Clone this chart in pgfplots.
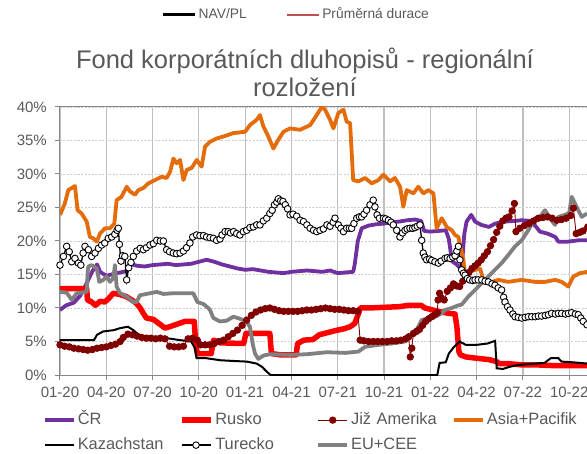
\documentclass[border=0pt]{standalone}
\usepackage{fontspec}
\setmainfont{Liberation Sans}
\usepackage{pgfplots}
\pgfplotsset{compat=1.18}
\definecolor{txt}{RGB}{89,89,89}
\definecolor{axgray}{RGB}{134,134,134}
\definecolor{gridv}{RGB}{191,191,191}
\definecolor{gridh}{RGB}{205,205,205}
\definecolor{cr}{RGB}{112,48,160}
\definecolor{rusko}{RGB}{255,0,0}
\definecolor{jiz}{RGB}{128,0,0}
\definecolor{asia}{RGB}{228,108,10}
\definecolor{eucee}{RGB}{128,128,128}
\definecolor{durace}{RGB}{192,80,77}
\begin{document}
\begin{tikzpicture}
\useasboundingbox (0pt,0pt) rectangle (587pt,453pt);
\clip (0pt,0pt) rectangle (587pt,453pt);
\begin{axis}[
  at={(60pt,78pt)}, anchor=south west,
  scale only axis, width=555.5pt, height=268pt,
  xmin=0, xmax=36, ymin=0, ymax=40,
  axis line style={axgray, line width=1pt},
  xtick={0,3,...,33},
  xticklabels={01-20,04-20,07-20,10-20,01-21,04-21,07-21,10-21,01-22,04-22,07-22,10-22},
  ytick={0,5,...,40},
  yticklabels={0\%,5\%,10\%,15\%,20\%,25\%,30\%,35\%,40\%},
  xtick pos=bottom, ytick pos=left,
  tick align=outside, major tick length=5pt,
  tick style={axgray, line width=1pt},
  xmajorgrids, ymajorgrids,
  x grid style={gridv, line width=1.2pt},
  y grid style={gridh, line width=0.7pt, dash pattern=on 2pt off 1.5pt},
  every tick label/.append style={font=\fontsize{15}{17}\selectfont, text=txt},
  xticklabel style={anchor=north, inner sep=0pt, yshift=-6.5pt},
  yticklabel style={anchor=east, inner sep=0pt, xshift=-8pt},
  title={Fond korporátních dluhopisů - regionální\\rozložení},
  title style={at={(axis description cs:0.441,1.199)}, anchor=north, align=center, inner sep=0pt, font=\fontsize{25.5}{28.4}\selectfont, text=txt},
  legend columns=4,
  legend cell align=left,
  legend image code/.code={\draw[mark repeat=2,mark phase=2,#1] plot coordinates {(0pt,0pt) (14.5pt,0pt) (29pt,0pt)};},
  legend style={draw=none, fill=none, inner sep=0pt, outer sep=0pt,
    at={(axis description cs:-0.0306,-0.1395)}, anchor=north west,
    font=\fontsize{16.4}{19}\selectfont, row sep=9.5pt,
    nodes={inner sep=0pt, text height=12pt, text depth=3.5pt, text width=101pt, align=left, text=txt},
    /tikz/every odd column/.style={column sep=2pt},
    /tikz/every even column/.style={column sep=0pt}},
]
% CR
\addplot[cr, line width=3.8pt, line join=round] coordinates {
(0,9.7) (0.4,10.4) (0.9,10.8) (1.3,11.8) (1.75,13.8) (2.1,15.5) (2.4,16.5) (2.6,15.4) (3.0,14.8) (3.5,15.1) (3.9,15.3) (4.3,15.5) (4.5,16.6) (5.0,16.3) (5.5,16.2) (6.0,16.4) (6.5,16.5) (7.0,16.6) (7.5,16.4) (8.0,16.5) (8.5,16.6) (9.0,16.9) (9.5,17.2) (10.0,16.9) (10.5,16.5) (11.0,16.2) (11.5,15.9) (12.0,15.7) (12.5,15.8) (13.0,15.6) (13.5,15.4) (14.0,15.3) (14.5,15.2) (15.0,15.4) (15.5,15.5) (16.0,15.6) (16.5,15.5) (17.0,15.4) (17.5,15.6) (18.0,15.2) (18.5,15.3) (19.0,15.4) (19.1,16.5) (19.3,20.0) (19.55,21.9) (20.0,22.3) (20.5,22.5) (21.0,22.6) (21.5,22.8) (22.0,22.9) (22.5,23.1) (23.0,23.2) (23.4,23.0) (23.6,21.5) (24.0,21.4) (24.5,21.5) (25.0,21.6) (25.2,20.3) (25.4,17.0) (25.7,16.5) (26.0,15.8) (26.1,18.0) (26.2,21.0) (26.35,22.9) (26.65,23.9) (26.9,22.9) (27.3,22.4) (27.8,22.1) (28.2,22.6) (28.8,22.9) (29.5,23.0) (29.9,23.1) (30.5,23.0) (30.9,22.0) (31.1,21.4) (31.6,21.1) (32.1,20.6) (32.3,19.9) (32.9,19.9) (33.6,20.1) (34.2,20.1)
};
\addlegendentry{ČR}
% Rusko
\addplot[rusko, line width=5.5pt, line join=round] coordinates {
(0,12.9) (1.73,12.9) (1.78,11.2) (2.05,10.9) (2.3,10.4) (2.6,11.0) (2.9,10.9) (3.15,11.4) (3.45,12.2) (3.9,12.0) (4.3,11.7) (4.65,11.2) (4.95,10.7) (5.2,10.0) (5.4,9.2) (5.6,8.5) (6.05,8.3) (6.4,7.7) (6.8,7.0) (7.1,7.2) (7.6,7.6) (8.1,8.0) (8.7,8.0) (8.8,4.5) (8.9,3.2) (9.8,3.2) (9.95,5.2) (10.4,4.8) (11.9,4.7) (12.05,6.2) (13.6,6.2) (13.7,3.2) (14.3,3.0) (15.3,3.0) (15.4,4.7) (15.8,5.2) (16.4,5.3) (16.8,6.0) (17.3,6.3) (17.8,6.6) (18.4,6.9) (18.8,7.2) (19.1,7.7) (19.35,9.2) (19.45,10.0) (20.0,10.0) (21.0,10.1) (22.0,10.2) (22.6,10.4) (23.4,10.4) (23.65,10.0) (24.5,9.5) (25.2,9.2) (25.6,9.1) (25.72,7.2) (25.85,3.5) (25.95,3.0) (26.3,2.7) (27.0,2.5) (27.8,2.3) (28.3,2.0) (28.45,1.7) (29.0,1.7) (30.0,1.5) (31.0,1.5) (32.0,1.4) (33.0,1.4) (34.2,1.4)
};
\addlegendentry{Rusko}
% Jiz Amerika
\addplot[jiz, line width=0.9pt, mark=*, mark size=3.2pt, mark options={fill=jiz, draw=jiz}] coordinates {
(0,4.5) (0.3,4.3) (0.6,4.2) (0.9,4.0) (1.2,3.9) (1.5,3.8) (1.8,3.7) (2.1,3.8) (2.4,4.0) (2.7,4.1) (3.0,4.2) (3.3,4.4) (3.6,4.6) (3.9,5.0) (4.1,5.6) (4.4,6.1) (4.7,6.0) (5.0,5.8) (5.3,5.6) (5.6,5.5) (5.9,5.5) (6.2,5.4) (6.5,5.5) (6.8,5.4) (7.1,4.3) (7.4,4.2) (7.7,4.2) (8.0,4.3) (8.3,5.4) (8.6,5.5) (8.9,5.2) (9.1,4.5) (9.4,4.5) (9.7,4.5) (10.0,4.7) (10.3,5.0) (10.6,5.2) (10.9,5.7) (11.2,6.2) (11.5,6.7) (11.8,7.4) (12.1,8.2) (12.4,8.9) (12.7,9.4) (13.0,9.7) (13.3,9.9) (13.6,10.0) (13.9,9.8) (14.2,9.6) (14.5,9.5) (14.8,9.5) (15.1,9.5) (15.4,9.5) (15.7,9.6) (16.0,9.7) (16.3,9.7) (16.6,9.8) (16.9,9.9) (17.2,10.0) (17.5,9.9) (17.8,9.8) (18.1,9.8) (18.4,9.7) (18.7,9.6) (19.0,9.6) (19.3,9.5) (19.45,5.2) (19.7,5.1) (20.0,5.0) (20.3,5.0) (20.6,5.0) (20.9,5.0) (21.2,5.0) (21.5,5.1) (21.8,5.1) (22.1,5.2) (22.4,5.4) (22.6,5.7) (22.7,2.7) (22.8,4.0) (22.9,6.2) (23.1,6.5) (23.3,6.8) (23.5,7.4) (23.7,8.0) (23.9,8.4) (24.1,8.7) (24.3,9.0) (24.45,9.3) (24.5,11.2) (24.6,12.2) (24.7,11.5) (24.9,11.2) (25.1,12.5) (25.3,13.0) (25.5,13.6) (25.7,13.3) (25.9,13.2) (26.1,14.0) (26.3,14.7) (26.5,15.3) (26.7,15.9) (26.9,16.3) (27.1,16.7) (27.3,17.2) (27.5,17.8) (27.7,18.4) (27.9,19.3) (28.1,20.2) (28.3,21.3) (28.5,22.2) (28.7,23.0) (28.9,23.4) (29.1,23.6) (29.3,24.5) (29.45,25.6) (29.55,21.4) (29.8,21.9) (30.1,22.3) (30.4,22.6) (30.7,23.0) (31.0,23.4) (31.3,23.5) (31.6,23.6) (31.9,23.4) (32.2,23.1) (32.5,23.2) (32.8,23.4) (33.1,23.8) (33.27,24.9) (33.45,21.1) (33.7,21.3) (33.9,21.5) (34.2,22.1)
};
\addlegendentry{Již Amerika}
% Asia+Pacifik
\addplot[asia, line width=3.8pt, line join=round] coordinates {
(0,23.9) (0.3,25.5) (0.54,27.6) (0.97,28.2) (1.14,24.6) (1.4,24.1) (1.73,22.9) (1.94,20.6) (2.16,20.4) (2.38,19.9) (2.59,21.1) (2.92,21.9) (3.24,21.9) (3.52,22.6) (3.67,26.1) (3.99,26.6) (4.32,28.1) (4.54,27.4) (4.86,26.9) (5.08,27.6) (5.4,27.9) (5.72,28.6) (6.16,29.1) (6.59,29.6) (6.91,29.4) (7.13,30.3) (7.35,32.3) (7.56,31.6) (7.78,32.1) (8.0,29.1) (8.21,30.6) (8.53,30.9) (8.86,32.1) (9.18,31.1) (9.4,34.1) (9.72,34.8) (10.15,35.3) (10.59,35.6) (11.23,36.1) (11.99,36.3) (12.31,37.3) (12.75,38.1) (12.96,38.8) (13.18,37.1) (13.5,35.6) (13.83,33.8) (14.15,35.1) (14.48,36.3) (14.91,36.8) (15.56,36.6) (16.21,37.3) (16.64,38.8) (16.96,40.0) (17.18,39.6) (17.5,38.1) (17.72,36.8) (18.04,39.1) (18.37,39.6) (18.58,37.8) (18.8,37.6) (19.0,29.1) (19.34,28.9) (19.77,29.4) (20.2,28.6) (20.64,29.1) (20.96,29.9) (21.39,28.9) (21.71,29.4) (22.04,28.1) (22.25,25.1) (22.47,27.6) (22.9,27.1) (23.22,28.1) (23.55,27.1) (23.87,27.6) (24.2,27.1) (24.41,21.9) (24.74,23.4) (25.06,22.1) (25.39,21.6) (25.6,20.9) (25.82,20.6) (26.14,17.2) (26.25,15.2) (26.57,15.4) (26.9,15.7) (27.22,15.9) (27.44,14.2) (27.76,13.7) (28.41,14.2) (29.05,13.9) (29.92,14.2) (30.78,13.9) (31.43,13.9) (32.08,14.2) (32.51,13.9) (32.94,13.2) (33.27,14.7) (33.7,15.2) (34.2,15.4)
};
\addlegendentry{Asia+Pacifik}
% Kazachstan
\addplot[black, line width=2pt] coordinates {
(0,5.2) (2.2,5.2) (2.4,6.0) (2.8,6.5) (3.5,6.7) (3.9,7.0) (4.4,7.2) (4.75,6.7) (5.1,6.0) (5.6,5.7) (6.3,5.7) (6.9,5.5) (7.8,5.2) (8.5,5.0) (8.75,4.0) (8.85,2.5) (9.5,2.5) (10.4,2.2) (11.2,2.1) (12.1,2.0) (12.75,1.7) (13.1,1.2) (13.4,0.5) (13.65,0) (24.45,0) (24.6,1.8) (25.0,1.9) (25.2,3.2) (25.5,4.1) (25.9,5.0) (26.3,4.5) (27.0,4.5) (27.7,4.7) (28.2,5.1) (28.3,1.0) (28.7,0.9) (29.1,1.2) (29.7,1.5) (30.8,1.7) (31.4,1.8) (31.8,2.5) (32.3,2.5) (32.5,2.0) (33.2,1.9) (34.2,1.7)
};
\addlegendentry{Kazachstan}
% Turecko
\addplot[black, line width=1.3pt, mark=*, mark size=3.3pt, mark options={fill=white, draw=black, line width=0.9pt}] coordinates {
(0,16.4) (0.22,17.7) (0.43,19.2) (0.6,18.4) (0.76,16.9) (0.97,17.4) (1.19,16.7) (1.35,16.4) (1.5,18.2) (1.62,19.2) (1.84,18.7) (2.05,17.7) (2.27,18.2) (2.49,18.9) (2.7,19.4) (2.9,19.7) (3.13,20.4) (3.35,20.6) (3.55,21.0) (3.7,21.6) (3.78,21.9) (3.85,19.5) (3.95,17.0) (4.05,17.8) (4.2,17.7) (4.32,14.2) (4.45,16.0) (4.6,16.8) (4.75,17.7) (4.97,18.5) (5.2,18.9) (5.4,18.7) (5.6,19.0) (5.83,19.4) (6.05,19.6) (6.27,20.1) (6.5,20.0) (6.7,20.0) (6.91,18.7) (7.1,18.4) (7.34,18.2) (7.55,18.1) (7.78,18.2) (8.0,18.5) (8.2,19.0) (8.42,19.7) (8.6,20.6) (8.85,20.9) (9.07,20.8) (9.3,20.8) (9.5,20.6) (9.72,20.5) (9.94,20.4) (10.15,20.1) (10.37,20.3) (10.5,20.9) (10.7,21.4) (10.9,21.4) (11.05,21.2) (11.25,21.4) (11.45,21.1) (11.66,20.9) (11.88,21.4) (12.1,21.6) (12.31,22.0) (12.53,22.1) (12.75,22.4) (12.96,22.4) (13.18,23.0) (13.4,23.4) (13.6,24.1) (13.75,24.6) (13.9,25.4) (14.05,25.8) (14.15,26.3) (14.3,26.0) (14.45,25.9) (14.6,25.4) (14.75,24.8) (14.91,23.9) (15.1,24.0) (15.34,23.7) (15.56,23.1) (15.78,22.9) (16.0,22.4) (16.21,21.9) (16.43,21.6) (16.64,21.4) (16.85,21.6) (17.07,21.8) (17.3,22.4) (17.5,22.2) (17.7,22.8) (17.82,23.4) (18.04,22.4) (18.2,21.9) (18.37,21.4) (18.58,21.9) (18.75,21.9) (18.9,21.9) (19.05,22.6) (19.23,23.4) (19.4,23.6) (19.55,23.6) (19.7,24.0) (19.87,24.6) (20.09,25.4) (20.3,26.1) (20.41,25.1) (20.55,23.9) (20.7,23.4) (20.96,23.4) (21.1,23.3) (21.28,23.1) (21.45,22.8) (21.6,22.4) (21.82,21.6) (22.03,20.6) (22.2,21.2) (22.36,21.6) (22.5,21.8) (22.68,21.9) (22.85,21.9) (23.0,22.0) (23.15,22.2) (23.33,22.4) (23.44,20.1) (23.54,18.2) (23.65,17.6) (23.76,17.2) (23.95,17.3) (24.09,17.1) (24.3,16.9) (24.52,16.7) (24.7,17.0) (24.95,17.4) (25.1,17.5) (25.28,17.4) (25.45,17.6) (25.6,17.8) (25.72,18.5) (25.82,19.2) (25.92,17.2) (26.03,15.7) (26.15,15.2) (26.25,14.9) (26.4,14.4) (26.55,14.2) (26.75,14.1) (26.9,14.2) (27.1,14.2) (27.33,14.2) (27.55,14.0) (27.76,13.9) (28.0,13.6) (28.19,13.4) (28.4,13.0) (28.62,12.7) (28.75,11.6) (28.84,10.9) (29.0,10.2) (29.16,9.7) (29.35,9.1) (29.49,8.7) (29.7,8.6) (29.92,8.5) (30.15,8.6) (30.35,8.7) (30.57,8.7) (30.8,8.7) (31.0,8.8) (31.21,8.8) (31.45,8.9) (31.65,9.0) (31.86,9.2) (32.1,9.1) (32.3,9.2) (32.51,9.2) (32.75,9.1) (32.95,9.2) (33.16,9.3) (33.4,9.1) (33.59,9.0) (33.75,8.5) (33.91,8.0) (34.15,7.5)
};
\addlegendentry{Turecko}
% EU+CEE
\addplot[eucee, line width=3.8pt, line join=round] coordinates {
(0,12.4) (0.43,12.3) (0.76,11.2) (1.08,12.2) (1.73,12.4) (1.8,15.5) (1.84,16.2) (2.05,16.4) (2.38,15.9) (2.55,13.9) (2.81,14.2) (3.02,14.7) (3.24,13.9) (3.46,14.5) (3.56,16.4) (3.67,13.2) (3.89,12.2) (4.32,11.7) (4.75,10.9) (4.97,10.9) (5.18,11.9) (5.83,12.2) (6.27,12.4) (6.7,12.1) (7.34,12.2) (8.0,12.2) (8.64,12.2) (8.9,10.9) (9.29,10.6) (9.61,10.0) (9.72,9.7) (9.94,8.5) (10.37,8.0) (10.8,8.1) (11.23,8.7) (11.66,8.4) (12.1,7.9) (12.31,7.2) (12.5,4.5) (12.64,3.2) (12.85,2.4) (13.18,2.9) (13.61,3.1) (14.9,3.0) (16.0,3.1) (17.3,3.4) (18.5,3.3) (19.34,3.5) (19.77,4.2) (20.63,4.5) (21.5,4.7) (22.36,5.0) (22.9,6.0) (23.22,7.2) (23.44,8.2) (23.87,8.5) (24.3,8.7) (24.74,9.2) (24.95,9.7) (25.38,10.0) (25.82,10.4) (26.03,10.5) (26.46,11.7) (26.9,12.7) (27.33,13.7) (27.76,14.7) (28.19,15.7) (28.62,16.7) (29.05,17.9) (29.49,19.2) (29.92,20.1) (30.35,21.6) (30.78,23.4) (31.1,23.6) (31.43,24.6) (31.75,23.4) (32.08,22.4) (32.3,23.6) (32.73,23.9) (33.0,24.2) (33.16,26.6) (33.48,25.1) (33.81,23.6) (34.15,24.1)
};
\addlegendentry{EU+CEE}
\end{axis}
\begin{axis}[
  at={(0pt,0pt)}, anchor=south west, scale only axis, width=587pt, height=453pt,
  hide axis, xmin=0, xmax=1, ymin=0, ymax=1,
  legend columns=2,
  legend cell align=left,
  legend image code/.code={\draw[#1] (0pt,0pt) -- (31.5pt,0pt);},
  legend style={draw=none, fill=none, inner sep=0pt, outer sep=0pt,
    at={(axis description cs:0.2755,0.9669)}, anchor=west,
    font=\fontsize{13.8}{16}\selectfont,
    nodes={inner sep=0pt, text height=10pt, text depth=3pt, text=txt},
    /tikz/column 1/.style={column sep=2.5pt},
    /tikz/column 2/.style={column sep=39pt},
    /tikz/column 3/.style={column sep=2.5pt}},
]
\addlegendimage{black, line width=3pt}
\addlegendentry{NAV/PL}
\addlegendimage{durace, line width=2.5pt}
\addlegendentry{Průměrná durace}
\end{axis}
\end{tikzpicture}
\end{document}
